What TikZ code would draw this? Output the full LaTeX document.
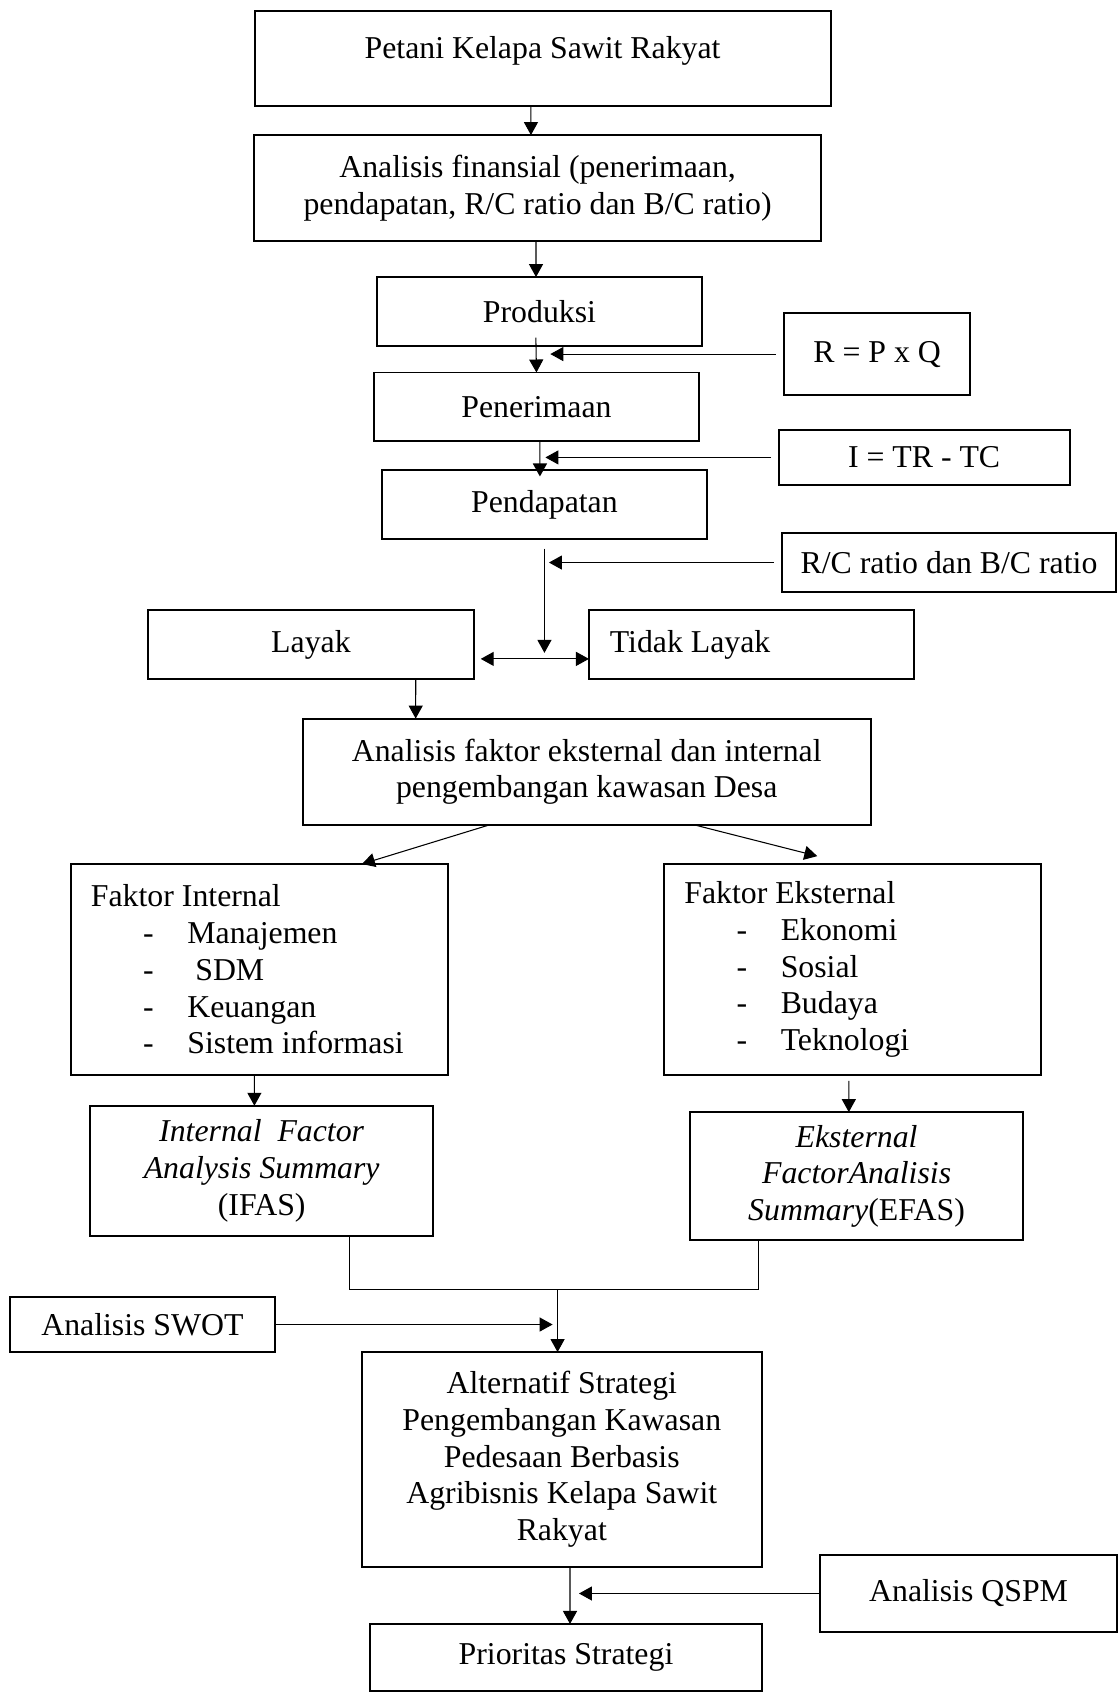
\documentclass[tikz,border=0pt]{standalone}
\usepackage{fontspec}
\setmainfont{Liberation Serif}
\usepackage{tikz}
\usetikzlibrary{positioning,arrows.meta,calc}
\newcommand{\butir}[1]{\hspace*{19.7pt}\makebox[16.7pt][l]{-}#1}
\tikzset{
	->, % every connector gets a head
	>={Triangle[length=4.9pt,width=5.3pt]}, % solid triangle heads
	kotak/.style={draw, line width=0.75pt, outer sep=0pt, align=center, inner sep=2pt, font=\fontsize{12pt}{13.85pt}\selectfont}, % the boxes
	daftar/.style={kotak, align=flush left, text width=127pt, inner xsep=7.7pt}, % boxes with a list of factors
}

\begin{document}
\begin{tikzpicture}
		\useasboundingbox (0,0) rectangle (148.28mm,-224.41mm);
		\node[kotak, minimum width=76.4mm, minimum height=12.55mm, text depth=8.8pt] (petani) at (71.96mm,-7.79mm) {Petani Kelapa Sawit Rakyat};
		\node[kotak, minimum width=75.28mm, minimum height=14.11mm, below=3.85mm of petani, xshift=-0.66mm] (finansial) {Analisis finansial (penerimaan,\\pendapatan, R/C ratio dan B/C ratio)};
		\node[kotak, minimum width=43.1mm, minimum height=9.15mm, below=4.72mm of finansial, xshift=0.25mm] (produksi) {Produksi};
		\node[kotak, minimum width=43.1mm, minimum height=9.09mm, below=3.51mm of produksi, xshift=-0.4mm] (penerimaan) {Penerimaan};
		\node[kotak, minimum width=43.1mm, minimum height=9.15mm, below=3.85mm of penerimaan, xshift=1.06mm] (pendapatan) {Pendapatan};
		\node[kotak, minimum width=24.67mm, minimum height=10.88mm, right=10.9mm of produksi, yshift=-5.64mm] (rpq) {R = P x Q};
		\node[kotak, minimum width=38.6mm, minimum height=7.29mm, right=10.56mm of penerimaan, yshift=-6.72mm] (itrtc) {I = TR - TC};
		\node[kotak, minimum width=44.3mm, minimum height=7.83mm, right=9.95mm of pendapatan, yshift=-7.69mm] (rcbc) {R/C ratio dan B/C ratio};
		\node[kotak, minimum width=43.24mm, minimum height=9.15mm, below=9.42mm of pendapatan, xshift=-30.97mm] (layak) {Layak};
		\node[kotak, align=flush left, text width=106.8pt, inner xsep=7.9pt, minimum height=9.15mm, right=15.25mm of layak] (tidak) {Tidak Layak};
		\node[kotak, minimum width=75.28mm, minimum height=14.12mm, below=5.24mm of layak, xshift=36.58mm] (faktor) {Analisis faktor eksternal dan internal\\pengembangan kawasan Desa};
		\node[daftar, minimum height=27.96mm, below=5.17mm of faktor, xshift=-43.44mm] (internal) {Faktor Internal\\\butir{Manajemen}\\\butir{\ SDM}\\\butir{Keuangan}\\\butir{Sistem informasi}};
		\node[daftar, minimum height=27.93mm, right=28.65mm of internal] (eksternal) {Faktor Eksternal\\\butir{Ekonomi}\\\butir{Sosial}\\\butir{Budaya}\\\butir{Teknologi}};
		\node[kotak, minimum width=45.43mm, minimum height=17.28mm, below=4.1mm of internal, xshift=0.33mm] (ifas) {\textit{Internal\ \ Factor}\\\textit{Analysis Summary}\\(IFAS)};
		\node[kotak, minimum width=44.25mm, minimum height=16.98mm, below=4.96mm of eksternal, xshift=0.53mm] (efas) {\textit{Eksternal}\\\textit{FactorAnalisis}\\\textit{Summary}(EFAS)};
		\node[kotak, minimum width=35.15mm, minimum height=7.29mm, below=8.09mm of ifas, xshift=-15.82mm] (swot) {Analisis SWOT};
		\node[kotak, minimum width=53.12mm, minimum height=28.5mm, below=15.39mm of ifas, xshift=39.8mm] (alternatif) {Alternatif Strategi\\Pengembangan Kawasan\\Pedesaan Berbasis\\Agribisnis Kelapa Sawit\\Rakyat};
		\node[kotak, minimum width=52mm, minimum height=8.9mm, below=7.56mm of alternatif, xshift=0.56mm] (prioritas) {Prioritas Strategi};
		\node[kotak, minimum width=39.4mm, minimum height=10.2mm, right=7.69mm of alternatif, yshift=-17.77mm] (qspm) {Analisis QSPM};
		
		% free ends of the side arrows
		\coordinate (tR) at ($(rpq.west -| penerimaan.north)+(1.84mm,0)$);
		\coordinate (tI) at ($(itrtc.west -| pendapatan.north)+(0.13mm,0)$);
		\coordinate (tRC) at ($(rcbc.west -| pendapatan.south)+(0.6mm,0)$);
		\coordinate (pilih) at ($(layak.east -| pendapatan.south)+(0,-1.9mm)$);
		\coordinate (gabung) at ($(alternatif.north)+(-0.56mm,8.29mm)$);
		\coordinate (tS) at ($(gabung |- swot.east)+(-0.66mm,0)$);
		\coordinate (tQ) at ($(qspm.west -| alternatif.south)+(2.28mm,0)$);
		
		\draw ([xshift=-1.54mm]petani.south) -- ([xshift=-0.88mm]finansial.north);
		\draw ([xshift=-0.21mm]finansial.south) -- ([xshift=-0.46mm]produksi.north);
		\draw[shorten <=-1.1mm] ([xshift=-0.46mm]produksi.south) -- (penerimaan.north);
		\draw[shorten >=-0.85mm] ([xshift=0.46mm]penerimaan.south) -- ([xshift=-0.6mm]pendapatan.north);
		\draw[shorten <=1.1mm] (rpq.west) -- (tR);
		\draw[shorten <=1mm] (itrtc.west) -- (tI);
		\draw[shorten <=1.1mm] (rcbc.west) -- (tRC);
		\draw[shorten <=1.26mm, shorten >=0.8mm] (pendapatan.south) -- (pilih);
		\draw[<->, shorten <=0.9mm] ([yshift=-1.9mm]layak.east) -- ([yshift=-1.9mm]tidak.west);
		\draw ([xshift=13.9mm]layak.south) -- ([xshift=-22.69mm]faktor.north);
		\draw ([xshift=-12.97mm]faktor.south) -- ([xshift=13.62mm]internal.north);
		\draw ([xshift=14.35mm]faktor.south) -- ([xshift=-4.68mm,yshift=1.06mm]eksternal.north);
		\draw ([xshift=-0.64mm]internal.south) -- ([xshift=-0.97mm]ifas.north);
		\draw[shorten <=0.8mm] ([xshift=-0.5mm]eksternal.south) -- ([xshift=-1.03mm]efas.north);
		\draw[-] ([xshift=11.62mm]ifas.south) |- (gabung) -| ([xshift=-13.05mm]efas.south);
		\draw (gabung) -- (gabung |- alternatif.north);
		\draw (swot.east) -- (tS);
		\draw ([xshift=1.09mm]alternatif.south) -- ([xshift=0.53mm]prioritas.north);
		\draw (qspm.west) -- (tQ);
	\end{tikzpicture}
\end{document}
